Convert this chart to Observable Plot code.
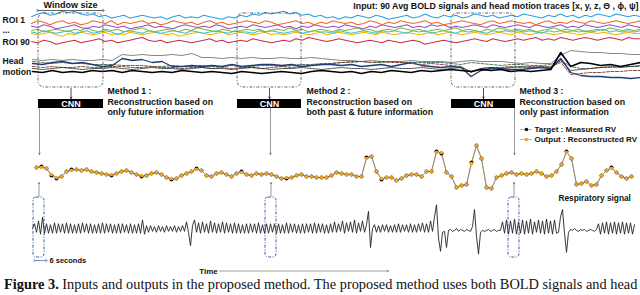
<!DOCTYPE html>
<html><head><meta charset="utf-8">
<script src="https://cdn.jsdelivr.net/npm/d3@7"></script>
<script src="https://cdn.jsdelivr.net/npm/@observablehq/plot@0.6"></script>
<style>
body{margin:0;background:#fff;width:640px;height:295px;overflow:hidden;}
#cap{font-family:"Liberation Serif","Times New Roman",serif;font-size:14.35px;line-height:14px;white-space:nowrap;padding-left:4px;color:#111}
svg{display:block}
</style></head><body>
<div id="chart"></div>
<div id="cap"><b>Figure 3.</b> Inputs and outputs in the proposed method. The proposed method uses both BOLD signals and head</div>
<script>
// ---------- data ----------
const boldColors = ["#2aa2e0","#f26a22","#9c4ec6","#7cbd3c","#3fc2d6","#f5b400","#c72f50"];
const boldBlue = [1,3,4,2,3,5,4,5,3,2, 3,1,2,0,1,2,0,1,2,1, 0,1,-1,1,2,0,1,0,2,1, 0,-1,1,0,2,1,3,2,4,3, 4,5,3,4,2,3,1,2,0,1, -1,1,0,2,1,0,2,1,-1,0, 1,2,0,1,3,1,0,2,1,2, 0,1,3,2,1,2,0,1,2,1, 3,2,1,0,2,1,3,1,2,0, 2,1,3,2,1,3,2,1,2,1];
const boldOrange = [0,2,1,-1,1,2,0,1,-1,0, 2,1,0,2,-1,1,0,1,2,0, 1,-1,0,2,1,0,1,-1,1,2, 0,1,-1,0,1,2,1,0,2,1, -1,0,1,2,0,1,-1,1,0,2, 1,0,1,-1,0,2,1,-1,1,0, 2,1,0,1,2,0,1,-1,0,1, 2,1,0,-1,1,2,0,1,2,1, 0,1,-1,1,2,0,1,0,2,1, 0,2,1,0,1,2,1,0,1,2];
const boldPurple = [1,0,2,1,-1,0,1,2,0,-1, 1,0,2,1,0,1,-1,0,1,2, 0,1,0,-1,1,2,1,0,1,0, 2,1,-1,0,1,0,2,1,0,1, 2,0,1,-1,1,0,2,1,0,1, 0,2,1,0,-1,1,0,2,1,0, 1,2,0,1,0,2,1,2,0,1, 0,1,2,1,0,2,1,0,1,2, 1,0,2,1,0,1,2,0,1,0, 2,1,0,1,2,1,0,2,1,0];
const boldGreen = [0,1,-1,0,1,0,-1,1,0,2, 0,-1,1,0,1,-1,0,1,2,0, -1,0,1,0,-1,1,0,2,1,0, -1,1,0,-1,0,1,0,1,-1,0, 1,0,2,0,1,-1,0,1,0,-1, 1,0,1,2,0,1,-1,0,1,0, 2,1,0,1,-1,0,1,0,1,2, 0,1,0,-1,1,0,2,1,0,1, 0,1,-1,0,1,2,0,1,0,1, -1,0,1,0,2,1,0,1,0,1];
const boldCyan = [0,-1,1,0,-1,0,1,-1,0,1, -1,0,1,0,-2,0,1,0,-1,1, 0,-1,0,1,0,-1,1,0,-1,0, 1,0,-1,1,0,0,-1,1,0,1, 0,-1,0,1,-1,0,1,0,0,-1, 1,0,-1,0,1,0,-1,1,0,1, 0,-1,1,0,1,-1,0,1,0,-1, 1,0,1,0,-1,1,0,1,0,1, 0,1,0,-1,1,0,1,0,1,0, 1,0,1,2,0,1,0,1,0,1];
const boldYellow = [0,-1,0,1,-1,-2,0,-1,1,0, -1,0,1,-1,0,-1,1,0,-1,0, 1,0,-1,0,-2,-1,0,1,0,-1, 0,1,-1,0,1,0,-1,0,1,-1, 0,-1,0,1,0,-1,0,1,-1,0, 1,0,-1,0,1,0,-1,1,0,-1, 0,1,0,-1,0,1,-1,0,1,0, -1,0,1,0,-1,0,1,0,-1,1, 0,-1,0,1,0,-1,0,1,0,-1, 0,1,0,1,0,-1,0,1,0,0];
const boldRed = [0,-1,1,0,-2,-1,0,1,-1,0, 1,2,0,1,-1,0,1,2,3,1, 0,1,-1,0,1,0,-1,0,1,2, 0,1,-1,0,1,0,2,1,0,-1, 0,1,0,2,1,3,2,1,0,1, 2,1,0,-1,0,1,0,-1,1,0, -1,0,1,0,-2,-1,0,1,0,-1, 0,1,2,1,0,2,1,0,1,2, 1,2,3,1,2,1,3,2,1,2, 3,2,1,2,3,2,1,3,2,2];
const boldLevels = [17.5, 23, 27, 30, 31.5, 33, 41];

const motionGray = [9,8,9,8,9,8,8,9,8, 14,13,14,13,13,14,13,15,11,11, 10,11,10,11,10,10,11,10,10,11, 10,9,8,8,7,8,7,7,7,8, 7,7,7,6,7,8,7,7,7,6, 5,6,5,5,13,18,17,16,16,15, 15,14,14];
const motionNavy = [5,4,6,7,5,6,4,2,3, 10,8,9,6,7,2,2,3,2,3, 2,4,2,3,4,4,3,4,2,3, 4,4,3,4,2,3,4,2,4,6, 3,2,1,2,1,-8,-2,0,0,-1, -1,0,1,0,10,-4,-7,-8,-8,-9, -9,-10,-9];
const motionBlack = [-3,-4,-2,-4,-3,-4,-2,-3,-2, -4,-2,-3,-4,-3,-4,-2,-3,-4,-3, -4,-5,-3,-4,-5,-4,-3,-4,-5,-3, -2,-3,-4,-3,-5,-3,-4,-2,-3,-4, -2,-3,-2,-1,-2,-3,-1,-2,-1,-3, -2,-3,-2,-1,16,2,6,5,3,4, 2,4,6];
const motionGreen = [7,6,5,6,5,5,4,4,4, 3,3,3,2,2,3,2,2,3,2, 2,3,2,2,3,3,2,3,4,4, 5,5,6,6,7,6,6,7,6,6, 6,6,6,5,4,6,5,4,3,4, 4,3,3,4,8,2,0,0,1,1, 2,2,2];
const motionBrown = [2,1,2,1,1,2,1,1,2, 2,1,1,2,1,1,0,1,1,0, 1,0,1,1,0,1,2,1,2,3, 4,5,6,7,7,6,7,6,6,5, 4,5,4,3,2,-4,0,1,1,2, 1,2,1,2,6,-6,-5,-4,-4,-3, -3,-2,-2];
const motionDark = [0,-1,0,1,0,-1,0,0,1, 0,-1,0,1,0,0,-1,0,1,0, 0,-1,0,1,0,-1,0,0,1,0, -1,0,1,0,0,-1,0,1,0,0, 1,0,-1,0,1,-3,0,1,0,1, 2,1,2,1,8,-2,-1,0,1,2, 1,2,3];

const rvTarget = [13,14,12,5,2,4,9,11,11,10, 11,9,8,7,6,5,7,9,10,8, 6,4,5,7,8,6,3,1,2,5, 7,9,12,10,5,4,7,8,6,4, 7,9,6,5,7,6,7,6,4,2, 2,3,5,6,4,4,3,3,3,5, 8,7,6,6,4,4,23,24,9,1, 3,3,0,2,5,6,6,4,9,9, 29,27,8,4,-7,-5,-4,18,35,22, -7,-8,3,5,7,8,6,7,6,7, 9,7,4,5,9,16,29,22,-4,-3, -1,-5,-4,5,10,13,8,4,2,4];
const rvOutput = [13,13,12,6,3,4,9,10,11,10, 11,9,8,7,6,6,7,9,10,8, 6,5,5,7,8,6,3,2,2,5, 7,9,11,10,5,4,7,8,6,4, 7,8,6,5,7,6,7,6,4,2, 3,3,5,6,4,4,3,3,3,5, 8,7,6,6,4,4,22,24,9,2, 3,3,0,2,5,6,6,4,9,9, 28,28,8,4,-7,-5,-4,17,35,22, -7,-8,3,5,7,8,6,7,6,7, 9,7,4,5,9,16,28,22,-4,-3, -1,-5,-4,5,10,12,8,4,2,4];

const resp = [0,5,-4,8,-6,12,-5,
 5,-5,4,-5,6,-5,5,-4, 5,-5,6,-5,5,-5,4,-5, 5,-5,6,-4,5,-5,5,-5, 4,-5,5,-5,6,-5,5,-4, 5,-5,4,-5,5,-5,5,-4, 4,-5,5,-5,4,-5,5,-5,
 9,-6,3,-4,
 3,-3,2,-4,3,-3,2,-4,3,-3,2,-3,3,-4,2,-3,3,-3,
 7,-4,-18,3,
 9,-4,6,-5,7,-4,5,-5,8,-4,6,-5,5,-4,7,-5,6,-4,5,-5,6,
 -5,5,-5,4,-5,5,-5,5, -4,5,-5,6,-5,4,-5,5, -5,5,-4,5,-5,5,-5,4, -5,6,-5,5,-4,5,-5,4, -5,5,-5,5,-4,5,-5,6, -5,5,-4,5,-5,4,-5,5,
 -4,7,-4,5,-3,8,-5,6,-3,7,-4,9,-5,6,-3,8,-4,
 4,18,-20,0,
 4,-4,3,-4,4,-3,4,-4,3,-4,4,-4,5,-4,4,-3,4,-4,5,-4,4,-4,5,-3,6,-4,5,-4,8,
 -3,12,25,-10,-24,
 -4,-3,-20,
 -2,-1,-3,-2,0,-3,-1,-2,-3,-1,-2,-3,
 2,20,-8,-27,
 -4,-2,-3,-2,-1,-3,-2,-1,-3,-2,-2,
 7,-5,9,-6,8,-5,10,-6,7,-5,9,-6,8,-5,10,-6,7,-4,9,-5,8,-6,10,-5,8,-6,9,-5,
 -4,12,20,-5,-25,
 -4,-1,-2,0,-2,-3,-1,-2,-1,-3,-2,-1,-2,-3,-1,
 5,-6,6,-5,7,-6,6,-5,7,-6,6,-5,7,-6,6,-5,6,-6,4];

const methodLabels = ["Method 1 :\nReconstruction based on\nonly future information",
  "Method 2 :\nReconstruction based on\nboth past & future information",
  "Method 3 :\nReconstruction based on\nonly past information"];
const windowStart = [38, 237, 451];
const windowEnd = [103, 301, 515];
const respWindowStart = [33, 265, 508];
const respWindowEnd = [44, 276, 519];
const legendLabels = ["Target : Measured RV", "Output : Reconstructed RV"];
const legendColors = ["#111", "#f2a516"];
const titleText = "Input: 90 Avg BOLD signals and head motion traces [x, y, z, \u0398 , \u03d5, \u03c8]";

// ---------- layout helpers ----------
const sans = "'Liberation Sans', Arial, Helvetica, sans-serif";
const W = 640, H = 277;
const stepX = (x0, x1, n) => (d, i) => x0 + i * (x1 - x0) / (n - 1);
const windows = windowStart.map((a, i) => ({a, b: windowEnd[i], m: (a + windowEnd[i]) / 2, label: methodLabels[i],
  out: [a + 1, (a + windowEnd[i]) / 2 + 1, windowEnd[i] - 1][i], tx: [107, 306, 519][i]}));
const respWins = respWindowStart.map((a, i) => ({a, b: respWindowEnd[i], m: (a + respWindowEnd[i]) / 2}));
const legend = legendLabels.map((l, i) => ({l, c: legendColors[i], y: 129 + i * 10}));

const marks = [];
const boldSets = [boldBlue, boldOrange, boldPurple, boldGreen, boldCyan, boldYellow, boldRed];
[6,5,4,3,2,1,0].forEach(k => {
  const arr = boldSets[k];
  marks.push(Plot.line(arr, {x: stepX(31, 640, arr.length), y: d => boldLevels[k] - d * 1.35, stroke: boldColors[k], strokeWidth: 1.05}));
});
const motionBase = 68;
const motionSets = [
  [motionGray, "#666", 0.8, null],
  [motionGreen, "#3d6b4a", 0.9, "3,1.5"],
  [motionBrown, "#8c3020", 0.9, "3,1.5"],
  [motionDark, "#222", 0.8, "2,1"],
  [motionNavy, "#1f3d78", 1.3, null],
  [motionBlack, "#000", 1.6, null]
];
motionSets.forEach(([arr, c, w, dash]) => {
  marks.push(Plot.line(arr, {x: stepX(32, 640, arr.length), y: d => motionBase - d, stroke: c, strokeWidth: w, strokeDasharray: dash}));
});

// windows
marks.push(Plot.rect(windows, {x1: "a", x2: "b", y1: 13, y2: 87, rx: 6, fill: "none", stroke: "#444", strokeWidth: 0.8, strokeDasharray: "3,1.5,1,1.5"}));
marks.push(Plot.arrow(windows, {x: "m", y1: 88, y2: 98, stroke: "#222", strokeWidth: 0.8, headLength: 3}));
marks.push(Plot.rect(windows, {x1: "a", x2: "b", y1: 99, y2: 108, fill: "#000"}));
marks.push(Plot.text(windows, {x: "m", y: 103.5, text: () => "CNN", fill: "#fff", fontWeight: "bold", fontSize: 9, fontFamily: sans}));
marks.push(Plot.text(windows, {x: "tx", y: 86, text: "label", textAnchor: "start", lineAnchor: "top", lineHeight: 1.2, fontSize: 8.8, fontWeight: "bold", fontFamily: sans, fill: "#111"}));
marks.push(Plot.arrow(windows, {x: "out", y1: 108, y2: 154, stroke: "#555", strokeWidth: 0.6, headLength: 4}));

// resp windows
marks.push(Plot.rect(respWins, {x1: "a", x2: "b", y1: 197, y2: 257, rx: 3, fill: "none", stroke: "#3b5fa6", strokeWidth: 1, strokeDasharray: "3,1.5,1,1.5"}));
marks.push(Plot.arrow(respWins, {x: "m", y1: 196, y2: 182, stroke: "#555", strokeWidth: 0.6, headLength: 4}));

// respiratory signal
marks.push(Plot.line(resp, {x: stepX(32, 634, resp.length), y: d => 228 - d * 0.95, stroke: "#222", strokeWidth: 0.9}));

// RV
const rvBase = 180;
marks.push(Plot.line(rvTarget, {x: stepX(36, 631, rvTarget.length), y: d => rvBase - d, stroke: "#333", strokeWidth: 0.6}));
marks.push(Plot.line(rvOutput, {x: stepX(36, 631, rvOutput.length), y: d => rvBase - d, stroke: "#b08a50", strokeWidth: 0.6}));
marks.push(Plot.dot(rvTarget, {x: stepX(36, 631, rvTarget.length), y: d => rvBase - d, r: 2, fill: "#111"}));
marks.push(Plot.dot(rvOutput, {x: stepX(36, 631, rvOutput.length), y: d => rvBase - d, r: 1.8, fill: "#f2a516"}));

// legend
marks.push(Plot.link(legend, {x1: 520, x2: 531, y1: "y", y2: "y", stroke: "#777", strokeWidth: 0.8, strokeDasharray: "2,1"}));
marks.push(Plot.dot(legend, {x: 526, y: "y", r: 1.8, fill: "c"}));
marks.push(Plot.text(legend, {x: 534, y: "y", text: "l", textAnchor: "start", fontSize: 8, fontWeight: "bold", fontFamily: sans, fill: "#111"}));

// labels
const labels = [
  {x: 2, y: 20, t: "ROI 1"}, {x: 2, y: 30, t: "..."}, {x: 2, y: 42, t: "ROI 90"},
  {x: 2, y: 61, t: "Head"}, {x: 2, y: 72, t: "motion"}
];
marks.push(Plot.text(labels, {x: "x", y: "y", text: "t", textAnchor: "start", fontSize: 8.6, fontWeight: "bold", fontFamily: sans, fill: "#111"}));
marks.push(Plot.text([titleText], {x: 638, y: 6, text: d => d, textAnchor: "end", fontSize: 8.8, fontWeight: "bold", fontFamily: sans, fill: "#111"}));
marks.push(Plot.text(["Window size"], {x: 70, y: 4.5, text: d => d, fontSize: 9, fontWeight: "bold", fontFamily: sans, fill: "#111"}));
marks.push(Plot.link([0], {x1: 37, x2: 103, y1: 10, y2: 10, stroke: "#222", strokeWidth: 0.7, markerStart: "arrow", markerEnd: "arrow"}));
marks.push(Plot.link([0], {x1: 34, x2: 46, y1: 260, y2: 260, stroke: "#3b5fa6", strokeWidth: 0.7, markerStart: "arrow", markerEnd: "arrow"}));
marks.push(Plot.text(["6 seconds"], {x: 49, y: 260, text: d => d, textAnchor: "start", fontSize: 7.5, fontWeight: "bold", fontFamily: sans, fill: "#111"}));
marks.push(Plot.text(["Respiratory signal"], {x: 558, y: 198, text: d => d, textAnchor: "start", fontSize: 8.3, fontWeight: "bold", fontFamily: sans, fill: "#111"}));
marks.push(Plot.text(["Time"], {x: 208, y: 270.5, text: d => d, fontSize: 8, fontWeight: "bold", fontFamily: sans, fill: "#111"}));
marks.push(Plot.arrow([0], {x1: 219, x2: 388, y1: 270.5, y2: 270.5, stroke: "#666", strokeWidth: 0.6, headLength: 4}));

const chart = Plot.plot({
  width: W, height: H, margin: 0,
  x: {domain: [0, W], axis: null},
  y: {domain: [0, H], reverse: true, axis: null},
  style: {fontFamily: sans, background: "#fff"},
  marks
});
document.getElementById("chart").appendChild(chart);
</script>
</body></html>
